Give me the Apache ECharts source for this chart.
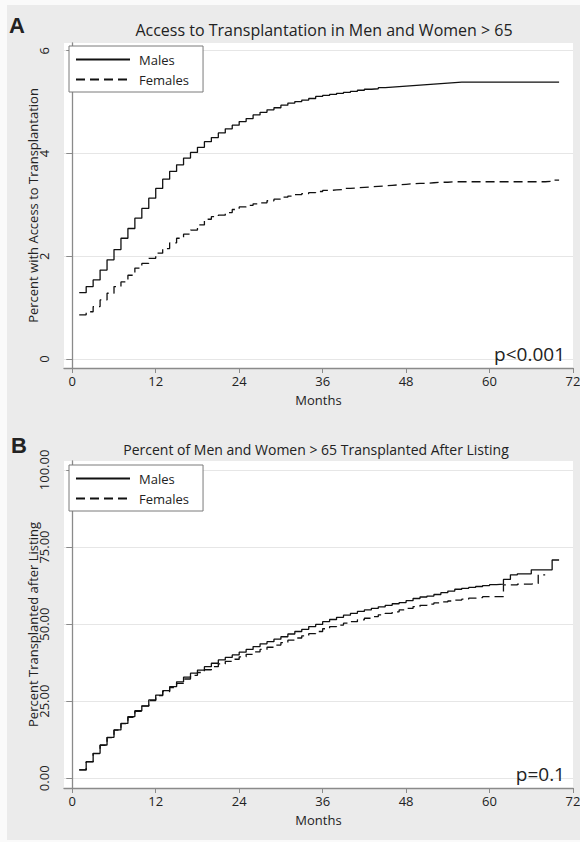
<!DOCTYPE html>
<html>
<head>
<meta charset="utf-8">
<script src="https://cdn.jsdelivr.net/npm/echarts@6/dist/echarts.min.js"></script>
<style>
html,body{margin:0;padding:0;background:#fafafa;}
#c{width:580px;height:842px;}
</style>
</head>
<body>
<div id="c"></div>
<script>
// ---------- data ----------
const months = [1,2,3,4,5,6,7,8,9,10,11,12,13,14,15,16,17,18,19,20,21,22,23,24,25,26,27,28,29,30,31,32,33,34,35,36,37,38,39,40,41,42,43,44,45,46,47,48,49,50,51,52,53,54,55,56,57,58,59,60,61,62,63,64,65,66,67,68,69,70];
const xTicks = [0,12,24,36,48,60,72];
const yTicksA = [0,2,4,6];
const yTicksB = [0,25,50,75,100];

const accessMales = [1.29,1.41,1.54,1.73,1.93,2.13,2.35,2.54,2.74,2.93,
  3.13,3.32,3.50,3.65,3.78,3.91,4.02,4.12,4.23,4.31,
  4.40,4.48,4.55,4.62,4.68,4.75,4.80,4.85,4.89,4.94,
  4.98,5.01,5.04,5.07,5.11,5.13,5.15,5.17,5.19,5.21,
  5.23,5.25,5.26,5.28,5.29,5.30,5.31,5.32,5.33,5.34,
  5.35,5.36,5.37,5.38,5.39,5.39,5.39,5.39,5.39,5.39,
  5.39,5.39,5.39,5.39,5.39,5.39,5.39,5.39,5.39,5.39];
const accessFemales = [0.86,0.92,1.02,1.15,1.28,1.41,1.50,1.63,1.77,1.86,
  1.96,2.06,2.15,2.26,2.35,2.43,2.51,2.61,2.72,2.77,
  2.80,2.85,2.91,2.96,2.99,3.02,3.04,3.08,3.11,3.15,
  3.17,3.20,3.22,3.24,3.26,3.28,3.29,3.30,3.32,3.33,
  3.34,3.35,3.36,3.37,3.38,3.39,3.40,3.41,3.42,3.42,
  3.43,3.44,3.44,3.45,3.45,3.45,3.45,3.45,3.45,3.45,
  3.45,3.45,3.45,3.45,3.45,3.45,3.45,3.46,3.48,3.48];
const listedMales = [2.7,5.4,8.1,10.8,13.3,15.7,17.8,20.0,21.9,23.5,
  25.4,27.0,28.4,29.7,31.3,32.8,34.1,35.1,36.2,37.3,
  38.4,39.2,40.0,40.9,41.8,42.7,43.6,44.3,45.1,45.9,
  46.8,47.6,48.3,49.2,49.9,50.8,51.5,52.2,52.9,53.5,
  54.1,54.6,55.1,55.6,56.1,56.6,57.0,57.6,58.3,58.8,
  59.1,59.6,60.2,60.7,61.3,61.6,61.9,62.2,62.5,62.8,
  63.0,64.5,66.0,66.3,66.3,67.6,67.6,67.6,70.8,70.8];
const listedFemales = [2.7,5.3,8.0,10.7,13.2,15.6,17.7,19.8,21.7,23.4,
  25.2,26.8,28.1,29.4,30.8,32.2,33.4,34.3,35.2,36.2,
  37.1,37.9,38.6,39.4,40.2,41.0,41.8,42.5,43.2,44.0,
  44.8,45.5,46.2,46.9,47.6,48.5,49.2,49.7,50.3,50.8,
  51.4,51.9,52.4,53.0,53.5,54.0,54.6,55.1,55.7,56.1,
  56.5,56.9,57.2,57.5,57.8,58.1,58.4,58.6,58.9,58.9,
  58.9,62.7,62.7,63.0,63.0,63.2,66.0,66.0];

// ---------- chart ----------
const FONT = '"Open Sans", "Noto Sans", sans-serif';
const AXIS_COLOR = '#8a8a8a';
const TEXT_COLOR = '#222';
const GRID_COLOR = '#e6e6e6';

function pairs(vals){ return vals.map((v,i)=>[months[i], v]); }

function xAxisCfg(gridIndex, gap){
  return {
    type:'value', gridIndex, min:-1.19, max:72,
    name:'Months', nameLocation:'middle', nameGap:gap, nameMoveOverlap:false,
    nameTextStyle:{fontFamily:FONT, fontSize:13, lineHeight:14, color:TEXT_COLOR},
    axisLine:{show:true, onZero:false, lineStyle:{color:AXIS_COLOR, width:1.3}},
    axisTick:{show:true, length:5, customValues:xTicks, lineStyle:{color:AXIS_COLOR, width:1}},
    axisLabel:{customValues:xTicks, margin:6, fontFamily:FONT, fontSize:13, lineHeight:14, color:TEXT_COLOR},
    splitLine:{show:false}
  };
}
function yAxisCfg(gridIndex, min, max, ticks, name, fmt){
  return {
    type:'value', gridIndex, min, max,
    name, nameLocation:'middle', nameGap:25, nameRotate:90, nameMoveOverlap:false,
    nameTextStyle:{fontFamily:FONT, fontSize:13, color:TEXT_COLOR},
    axisLine:{show:true, lineStyle:{color:AXIS_COLOR, width:1.3}},
    axisTick:{show:true, length:6, customValues:ticks, lineStyle:{color:AXIS_COLOR, width:1}},
    axisLabel:{customValues:ticks, rotate:90, margin:14, fontFamily:FONT, fontSize:13, color:TEXT_COLOR, formatter:fmt},
    splitLine:{show:true, lineStyle:{color:GRID_COLOR, width:1.2}}
  };
}
function lineSeries(name, vals, xi, dashed){
  return {
    name, type:'line', step:'end', xAxisIndex:xi, yAxisIndex:xi,
    data:pairs(vals), symbol:'none', silent:true,
    itemStyle:{color:'#111'},
    lineStyle:{color:'#111', width:1.3, type: dashed ? [9,5] : 'solid'},
    z:5
  };
}
function legendCfg(top){
  return {
    orient:'vertical', left:69, top, itemWidth:54, itemHeight:14, itemGap:7,
    padding:[7,14,6,6], backgroundColor:'#fff', borderColor:'#7a7a7a', borderWidth:1,
    selectedMode:false,
    itemStyle:{opacity:0},
    textStyle:{fontFamily:FONT, fontSize:13, color:TEXT_COLOR, padding:[0,0,0,4]},
    data:[{name:'Males'},{name:'Females'}]
  };
}
function txt(text, x, y, size, align, weight, family){
  return {type:'text', x, y, z:10, silent:true,
    style:{text, fill:TEXT_COLOR, fontSize:size, fontWeight:weight||'normal', fontFamily:family||FONT,
      textAlign:align, textVerticalAlign:'middle', align, verticalAlign:'middle'}};
}

const chart = echarts.init(document.getElementById('c'), null, {renderer:'svg'});
chart.setOption({
  animation:false,
  backgroundColor:'#fafafa',
  grid:[
    {left:64, right:7, top:43, height:325, show:true, backgroundColor:'#fff', borderWidth:0, outerBoundsMode:'none', containLabel:false},
    {left:64, right:7, top:461, height:327, show:true, backgroundColor:'#fff', borderWidth:0, outerBoundsMode:'none', containLabel:false}
  ],
  xAxis:[xAxisCfg(0,25), xAxisCfg(1,25)],
  yAxis:[
    yAxisCfg(0,-0.175,6.15,yTicksA,'Percent with Access to Transplantation', v=>String(v)),
    yAxisCfg(1,-3.15,102.9,yTicksB,'Percent Transplanted after Listing', v=>v.toFixed(2))
  ],
  legend:[legendCfg(46), legendCfg(465)],
  series:[
    lineSeries('Males', accessMales, 0, false),
    lineSeries('Females', accessFemales, 0, true),
    lineSeries('Males', listedMales, 1, false),
    lineSeries('Females', listedFemales, 1, true)
  ],
  graphic:[
    {type:'rect', z:-100, silent:true, shape:{x:7, y:5, width:573, height:835}, style:{fill:'#ebebeb'}},
    txt('A', 9, 25, 22, 'left', 'bold', '"Liberation Sans", Arial, sans-serif'),
    txt('B', 11, 445, 22, 'left', 'bold', '"Liberation Sans", Arial, sans-serif'),
    txt('Access to Transplantation in Men and Women > 65', 324, 30, 16, 'center'),
    txt('Percent of Men and Women > 65 Transplanted After Listing', 316, 449, 14, 'center'),
    txt('p<0.001', 565, 354, 19, 'right'),
    txt('p=0.1', 565, 774, 19, 'right')
  ]
});
</script>
</body>
</html>
